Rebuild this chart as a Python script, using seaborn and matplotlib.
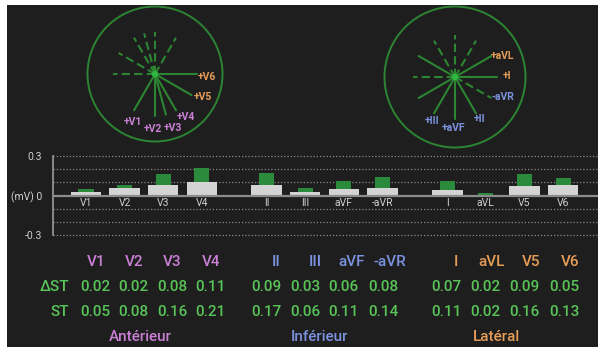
import numpy as np
import pandas as pd
import matplotlib
matplotlib.use("Agg")
import matplotlib.pyplot as plt
import seaborn as sns
from matplotlib.patches import Rectangle, Circle

# ---------------- data ----------------
leads = ["V1", "V2", "V3", "V4", "II", "III", "aVF", "-aVR", "I", "aVL", "V5", "V6"]
group_of_lead = [0, 0, 0, 0, 1, 1, 1, 1, 2, 2, 2, 2]
group_names = ["Antérieur", "Inférieur", "Latéral"]
delta_st = [0.02, 0.02, 0.08, 0.11, 0.09, 0.03, 0.06, 0.08, 0.07, 0.02, 0.09, 0.05]
st = [0.05, 0.08, 0.16, 0.21, 0.17, 0.06, 0.11, 0.14, 0.11, 0.02, 0.16, 0.13]
ytick_vals = [-0.3, 0.0, 0.3]
ytick_labels = ["-0.3", "(mV) 0", "0.3"]

# vector diagrams (angle in degrees, screen-clockwise from +x)
horiz_leads = ["+V1", "+V2", "+V3", "+V4", "+V5", "+V6"]
horiz_angles = [120, 90, 75, 60, 30, 0]
front_leads = ["+aVL", "+I", "-aVR", "+II", "+aVF", "+III"]
front_angles = [-30, 0, 30, 60, 90, 120]

# ---------------- style ----------------
sns.set_style("dark")
plt.rcParams["font.family"] = ["Roboto", "DejaVu Sans"]

BG = "#1f1e1e"
PINK = "#c87fd4"
BLUE = "#7b92de"
ORANGE = "#e59d58"
GREEN_TXT = "#58c458"
GREEN_LINE = "#2c8533"
GREEN_BAR = "#2b8a3b"
GRAY_BAR = "#d4d4d4"
GRID = "#8a8a8a"
TXT = "#cfcfcf"

W, H = 598, 347
fig = plt.figure(figsize=(W / 100, H / 100), dpi=100)
fig.patch.set_facecolor("white")
fig.patches.append(Rectangle((7 / W, 0), 1 - 7 / W, 1 - 5 / H, transform=fig.transFigure,
                             facecolor=BG, edgecolor="none", zorder=-10))

# ---------------- bar chart ----------------
x0_px, x1_px = 53, 598
ytop_px, ybot_px = 156, 235
axb = fig.add_axes([x0_px / W, 1 - ybot_px / H, (x1_px - x0_px) / W, (ybot_px - ytop_px) / H])
axb.set_facecolor("none")

group_offset = 4.68
pos = [g * group_offset + (i % 4) for i, g in enumerate(group_of_lead)]
df = pd.DataFrame({
    "lead": leads,
    "pos": pos,
    "st": st,
    "base": np.array(st) - np.array(delta_st),
})

sns.barplot(data=df, x="pos", y="st", native_scale=True, width=0.39, color=GREEN_BAR,
            saturation=1, errorbar=None, ax=axb, linewidth=0, zorder=2)
sns.barplot(data=df, x="pos", y="base", native_scale=True, width=0.79, color=GRAY_BAR,
            saturation=1, errorbar=None, ax=axb, linewidth=0, zorder=3)

slot_px = 38.6
v1_px = 86
axb.set_xlim((x0_px - v1_px) / slot_px, (x1_px - v1_px) / slot_px)
axb.set_ylim(-0.3, 0.3)
axb.set_xticks([])
axb.set_xlabel("")
axb.set_ylabel("")
axb.grid(False)
for yv in [-0.3, -0.2, -0.1, 0.1, 0.2, 0.3]:
    axb.axhline(yv, color=GRID, lw=0.9, ls=(0, (1, 1.6)), clip_on=False, zorder=1)
axb.axhline(0, color="#8c8c8c", lw=1.6, zorder=4)
for s in ["top", "right", "bottom"]:
    axb.spines[s].set_visible(False)
axb.spines["left"].set_color("#9a9a9a")
axb.spines["left"].set_linewidth(1.2)
axb.set_yticks(ytick_vals)
axb.set_yticklabels(ytick_labels)
axb.tick_params(axis="y", length=0, pad=8, labelsize=7.5, labelcolor=TXT)
for p, name in zip(pos, leads):
    axb.text(p, -0.058, name, ha="center", va="center", fontsize=7.5, color=TXT, zorder=5)

# ---------------- overlay (pixel coordinates) ----------------
ov = fig.add_axes([0, 0, 1, 1])
ov.set_xlim(0, W)
ov.set_ylim(H, 0)
ov.axis("off")
ov.set_facecolor("none")


def diagram(cx, cy, r, solid, dashed, L=42):
    ov.add_patch(Circle((cx, cy), r, fill=False, edgecolor=GREEN_LINE, lw=1.4))
    for a in dashed:
        t = np.deg2rad(a)
        ov.plot([cx, cx + L * np.cos(t)], [cy, cy + L * np.sin(t)], color=GREEN_LINE, lw=1.5,
                ls=(0, (4, 2.0)))
    for a in solid:
        t = np.deg2rad(a)
        ov.plot([cx, cx + L * np.cos(t)], [cy, cy + L * np.sin(t)], color=GREEN_LINE, lw=1.5)
    ov.add_patch(Circle((cx, cy), 3.2, facecolor="#2fb83f", edgecolor="none", zorder=5))


LFS = 7.5
# horizontal plane
diagram(155, 74, 67.5, horiz_angles, [a + 180 for a in horiz_angles])
horiz_lab_pos = [(133, 122), (153, 129), (173, 128), (186, 117), (203, 97), (207, 77)]
horiz_cols = [PINK, PINK, PINK, PINK, ORANGE, ORANGE]
for (lx, ly), lab, c in zip(horiz_lab_pos, horiz_leads, horiz_cols):
    ov.text(lx, ly, lab, ha="center", va="center", fontsize=LFS, color=c, fontweight="bold")

# frontal plane
front_solid = [-30, 0, 60, 90, 120, 150, -150]
front_dashed = [180, -90, -120, -60, 30]
diagram(455, 77, 70.5, front_solid, front_dashed)
front_lab_pos = [(502, 56), (507, 76), (503, 97), (480, 119), (453, 128), (432, 121)]
front_cols = [ORANGE, ORANGE, BLUE, BLUE, BLUE, BLUE]
for (lx, ly), lab, c in zip(front_lab_pos, front_leads, front_cols):
    ov.text(lx, ly, lab, ha="center", va="center", fontsize=LFS, color=c, fontweight="bold")

# ---------------- table ----------------
group_cols = [PINK, BLUE, ORANGE]
lead_cols = [group_cols[g] for g in group_of_lead]
head_x = [96, 134, 172, 211, 276, 315, 352, 390, 456, 492, 531, 570]
val_x = [95, 133, 172, 210, 266, 305, 343, 383, 446, 485, 524, 564]
row_y = [262, 287, 312, 337]
FS = 11
FW = "medium"
for x, name, c in zip(head_x, leads, lead_cols):
    ov.text(x, row_y[0], name, ha="center", va="center", fontsize=FS, color=c, fontweight=FW)
ov.text(69, row_y[1], "ΔST", ha="right", va="center", fontsize=FS, color=GREEN_TXT, fontweight=FW)
ov.text(69, row_y[2], "ST", ha="right", va="center", fontsize=FS, color=GREEN_TXT, fontweight=FW)
for x, d, s in zip(val_x, delta_st, st):
    ov.text(x, row_y[1], f"{d:.2f}", ha="center", va="center", fontsize=FS, color=GREEN_TXT, fontweight=FW)
    ov.text(x, row_y[2], f"{s:.2f}", ha="center", va="center", fontsize=FS, color=GREEN_TXT, fontweight=FW)
for x, name, c in zip([140, 320, 497], group_names, group_cols):
    ov.text(x, row_y[3], name, ha="center", va="center", fontsize=FS, color=c, fontweight=FW)

fig.savefig("out.png", dpi=100, facecolor=fig.get_facecolor())
